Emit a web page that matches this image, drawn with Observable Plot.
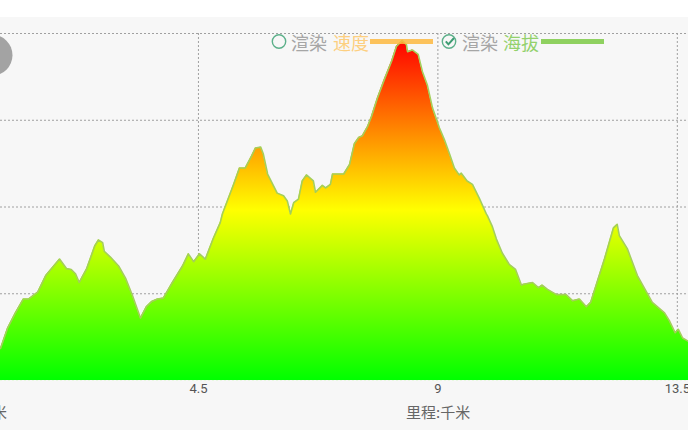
<!DOCTYPE html>
<html><head><meta charset="utf-8">
<script src="https://cdn.jsdelivr.net/npm/d3@7"></script>
<script src="https://cdn.jsdelivr.net/npm/@observablehq/plot@0.6"></script>
<style>
html,body{margin:0;padding:0;background:#fff;overflow:hidden}
#chart{position:relative;width:688px;height:430px;overflow:hidden;font-family:"Noto Sans CJK SC",sans-serif}
#chart svg{display:block}
.lg{position:absolute;top:31px;height:22px;line-height:22px;font-size:18px;white-space:nowrap}
.sw{position:absolute;top:39px;width:63px;height:5px}
</style></head><body><div id="chart"></div>
<script>
const distanceKm = [0.78,0.91,1.06,1.21,1.31,1.48,1.63,1.89,2.02,2.11,2.19,2.26,2.40,2.55,2.62,2.70,2.73,2.85,3.00,3.13,3.26,3.41,3.52,3.62,3.73,3.84,4.01,4.20,4.31,4.41,4.52,4.63,4.78,4.91,4.95,5.16,5.27,5.38,5.50,5.57,5.67,5.72,5.80,5.98,6.10,6.17,6.23,6.29,6.38,6.45,6.53,6.66,6.70,6.83,6.89,6.98,7.02,7.23,7.34,7.43,7.51,7.58,7.68,7.75,7.86,8.00,8.13,8.22,8.33,8.41,8.43,8.52,8.63,8.71,8.80,8.90,9.03,9.12,9.22,9.31,9.40,9.44,9.55,9.65,9.78,9.91,9.93,10.02,10.10,10.21,10.34,10.46,10.57,10.61,10.78,10.89,10.96,11.06,11.23,11.41,11.53,11.66,11.79,11.87,11.99,12.13,12.30,12.37,12.41,12.56,12.75,13.03,13.26,13.35,13.46,13.52,13.60,13.71];
const elevation = [37,60,78,94,94,102,121,140,129,128,123,113,129,155,162,159,149,142,132,118,98,72,85,91,94,95,113,132,146,137,146,140,164,182,192,226,245,245,259,268,269,261,238,216,213,207,192,205,209,230,237,230,217,225,222,226,238,238,249,273,280,282,293,304,325,348,368,385,392,387,379,381,376,356,341,314,291,278,261,245,237,239,230,226,210,192,190,178,163,147,134,128,110,111,113,107,110,105,99,99,92,94,85,90,113,140,176,180,167,152,121,90,78,69,55,59,49,45];
const gridKm = [4.5,9,13.5];
const gridElevation = [0,100,200,300,400];
const badgeKm = [0.62];
const badgeElevation = [375];

const profile = distanceKm.map((km,i)=>({km,ele:elevation[i]}));
const gradient = () => {
  const s = d3.create("svg:defs");
  const g = s.append("linearGradient").attr("id","eleGrad").attr("x1",0).attr("x2",0).attr("y1",1).attr("y2",0);
  g.append("stop").attr("offset","0").attr("stop-color","#00ff00");
  g.append("stop").attr("offset","0.5").attr("stop-color","#ffff00");
  g.append("stop").attr("offset","1").attr("stop-color","#ff0000");
  return s.node();
};
const gridStyle = {stroke:"#a0a0a0",strokeOpacity:1,strokeWidth:1,strokeDasharray:"2 2"};
const plot = Plot.plot({
  width:688,height:430,marginTop:33,marginBottom:50,marginLeft:0,marginRight:0,
  x:{domain:[0.78,13.71],axis:null},
  y:{domain:[0,400],axis:null},
  style:{background:"linear-gradient(#fff 17px,#f7f7f7 17px)",overflow:"hidden"},
  marks:[
    gradient,
    Plot.gridX(gridKm,{...gridStyle}),
    Plot.gridY(gridElevation,{...gridStyle}),
    Plot.dot(badgeKm.map((k,i)=>({k,e:badgeElevation[i]})),{x:"k",y:"e",r:20.5,fill:"#a3a3a3"}),
    Plot.areaY(profile,{x:"km",y:"ele",fill:"url(#eleGrad)"}),
    Plot.line(profile,{x:"km",y:"ele",stroke:"#a4cf5a",strokeWidth:1.6}),
    Plot.gridY([0],{...gridStyle,stroke:"#e8f8e0"}),
    Plot.axisX(gridKm,{tickSize:0,tickPadding:3,fontSize:13,color:"#555",fontFamily:"Roboto",tickFormat:d=>String(d),label:null})
  ]
});
const root = document.getElementById("chart");
root.appendChild(plot);
const html = `
<svg style="position:absolute;left:271px;top:33px" width="17" height="17" viewBox="0 0 17 17"><circle cx="8" cy="8.5" r="6.7" fill="none" stroke="#5cb08a" stroke-width="1.4"/></svg>
<span class="lg" style="left:291px;color:#a6a6a6">渲染</span>
<span class="lg" style="left:333px;color:#fdcf80">速度</span>
<div class="sw" style="left:370px;background:#fdb93f;opacity:.85"></div>
<svg style="position:absolute;left:441px;top:33px" width="17" height="17" viewBox="0 0 17 17"><circle cx="8" cy="8.5" r="6.7" fill="none" stroke="#5cb08a" stroke-width="1.4"/><path d="M4.8 8.3l2.6 3 5.6-6.3" fill="none" stroke="#3d9c72" stroke-width="2"/></svg>
<span class="lg" style="left:462px;color:#a6a6a6">渲染</span>
<span class="lg" style="left:503px;color:#93d16c">海拔</span>
<div class="sw" style="left:541px;background:#8fd160"></div>
<span style="position:absolute;left:406px;top:403px;font-size:15px;line-height:18px;color:#666">里程:千米</span>
<span style="position:absolute;left:-8px;top:403px;font-size:15px;line-height:18px;color:#666">米</span>
<span style="position:absolute;left:-2px;top:-14px;font-size:13px;line-height:16px;color:#666;font-family:Roboto">5</span>`;
root.insertAdjacentHTML("beforeend",html);
</script></body></html>
